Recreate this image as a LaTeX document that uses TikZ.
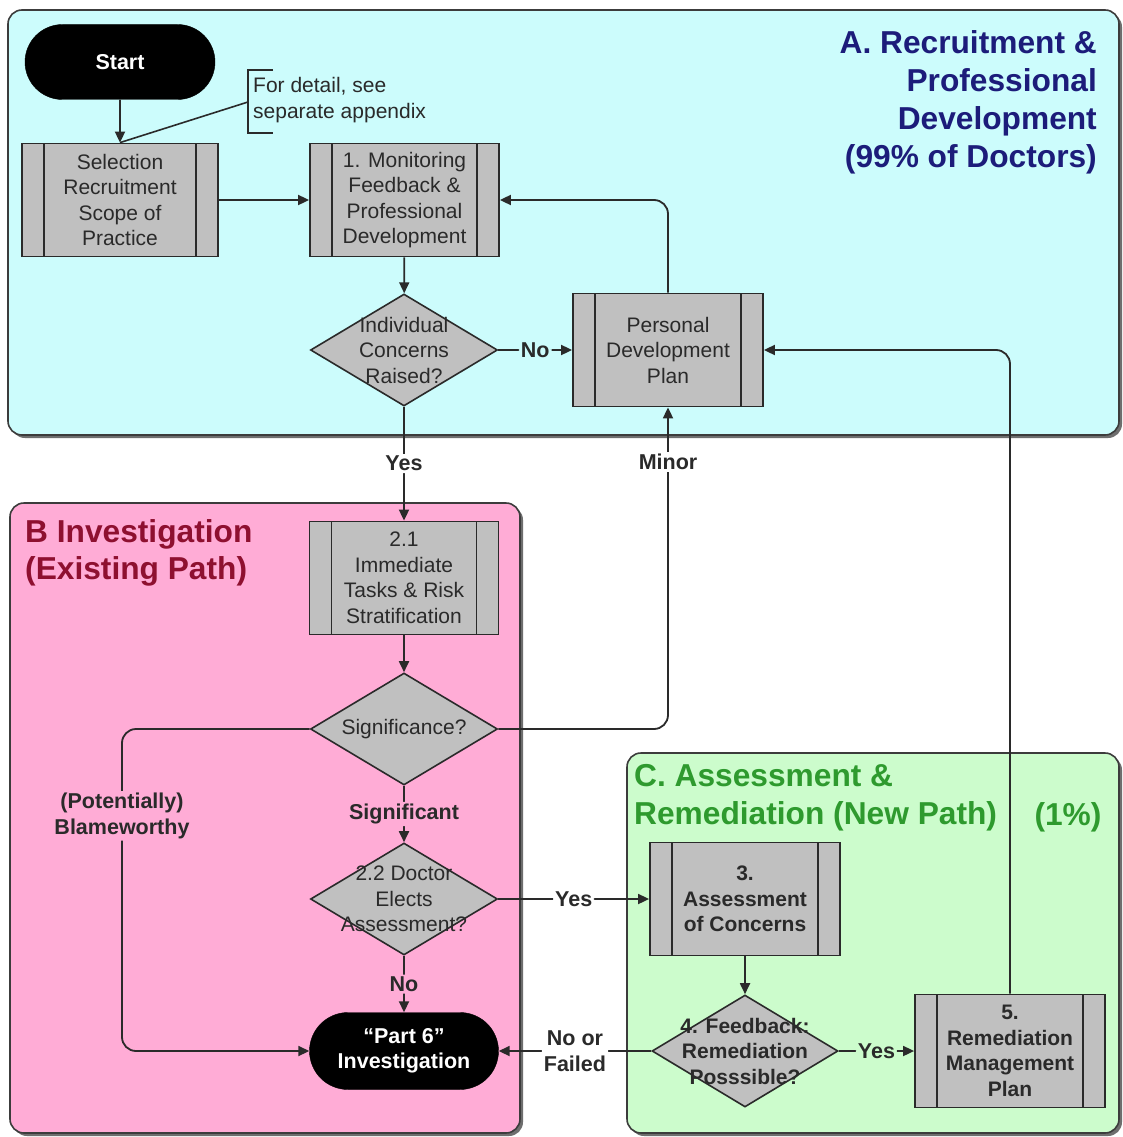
\documentclass[tikz,border=0pt]{standalone}
\usepackage{fontspec}
\setmainfont{Liberation Sans}
\usetikzlibrary{shapes.geometric,shapes.misc,arrows.meta,calc}

\definecolor{panelA}{HTML}{CCFCFC}
\definecolor{panelB}{HTML}{FFACD6}
\definecolor{panelC}{HTML}{CCFCCC}
\definecolor{boxgrey}{HTML}{C0C0C0}
\definecolor{ink}{HTML}{2A2A2A}
\definecolor{edge}{HTML}{3C3C3C}
\definecolor{shade}{HTML}{6E6E6E}
\definecolor{titleA}{HTML}{1C1C7A}
\definecolor{titleB}{HTML}{8E1030}
\definecolor{titleC}{HTML}{2E9A2E}

\newcommand\bxfont{\fontsize{21}{25.5}\selectfont}
\newcommand\bbxfont{\fontsize{21}{25.5}\selectfont\bfseries}
\newcommand\lblfont{\fontsize{21.5}{25.5}\selectfont\bfseries}
\newcommand\ttlAfont{\fontsize{31.7}{38}\selectfont\bfseries}
\newcommand\ttlBfont{\fontsize{31.7}{37.5}\selectfont\bfseries}
\newcommand\ttlCfont{\fontsize{31.7}{38}\selectfont\bfseries}

\tikzset{
  panel/.style={draw=edge, line width=1.6pt, rounded corners=14pt},
  panelshadow/.style={fill=shade, rounded corners=14pt},
  proc/.style={draw=ink, line width=1.8pt, fill=boxgrey, minimum width=189pt,
    minimum height=113pt, inner sep=0pt, align=center, text=ink, font=\bxfont,
    path picture={
      \draw[line width=1.8pt, ink]
        ([xshift=22pt]path picture bounding box.north west) --
        ([xshift=22pt]path picture bounding box.south west);
      \draw[line width=1.8pt, ink]
        ([xshift=-22pt]path picture bounding box.north east) --
        ([xshift=-22pt]path picture bounding box.south east);
    }},
  dia/.style={diamond, draw=ink, line width=1.6pt, fill=boxgrey,
    minimum width=187pt, minimum height=112pt, inner sep=0pt},
  diatext/.style={align=center, text=ink, font=\bxfont, inner sep=0pt},
  term/.style={rounded rectangle, fill=black, draw=black, text=white,
    font=\lblfont, align=center, minimum width=189pt, minimum height=76pt,
    inner sep=0pt},
  conn/.style={draw=ink, line width=1.8pt, rounded corners=14pt,
    -{Triangle[length=11pt,width=10pt]}},
  lbl/.style={font=\lblfont, text=ink, inner sep=2pt, align=center},
  annot/.style={draw=ink, line width=1.6pt}
}

\begin{document}
\begin{tikzpicture}[x=1pt,y=-1pt]
\useasboundingbox (0,0) rectangle (1123,1137);
\fill[white] (0,0) rectangle (1123,1137);

% ---------- swim-lane panels ----------
\fill[panelshadow] (11,13) rectangle (1122,438);
\filldraw[panel, fill=panelA] (8,10) rectangle (1119,435);

\fill[panelshadow] (13,506) rectangle (523,1136);
\filldraw[panel, fill=panelB] (10,503) rectangle (520,1133);

\fill[panelshadow] (630,756) rectangle (1122,1136);
\filldraw[panel, fill=panelC] (627,753) rectangle (1119,1133);

% ---------- panel titles ----------
\node[font=\ttlAfont, text=titleA, align=right, anchor=east, inner sep=0pt]
  (ttlA) at (1097,102) {A. Recruitment \&\\Professional\\Development\\(99\% of Doctors)};
\node[font=\ttlBfont, text=titleB, align=left, anchor=west, inner sep=0pt]
  (ttlB) at (25,553) {B Investigation\\(Existing Path)};
\node[font=\ttlCfont, text=titleC, align=left, anchor=west, inner sep=0pt]
  (ttlC) at (634,798) {C. Assessment \&\\Remediation (New Path)};
\node[font=\ttlCfont, text=titleC, inner sep=0pt] (pct) at (1068,817) {(1\%)};

% ---------- section A ----------
\node[term, minimum width=190pt, minimum height=75pt] (start) at (120,62) {Start};
\node[proc, minimum width=196pt] (sel) at (120,200) {Selection\\Recruitment\\Scope of\\Practice};
\node[proc] (mon) at (404.5,200) {1. Monitoring\\Feedback \&\\Professional\\Development};
\node[dia] (d1) at (404,350) {};
\node[diatext] at (d1) {Individual\\Concerns\\Raised?};
\node[proc, minimum width=190pt] (pdp) at (668,350) {Personal\\Development\\Plan};

% note with bracket
\node[anchor=west, font=\bxfont, text=ink, align=left, inner sep=0pt]
  (note) at (253,100) {For detail, see\\separate appendix};
\coordinate (brk) at (248,102);
\draw[annot] (273,70) -- (248,70) -- (248,133) -- (273,133);
\draw[annot] (brk) -- (sel.north);

% ---------- section B ----------
\node[proc] (t21) at (404,578) {2.1\\Immediate\\Tasks \& Risk\\Stratification};
\node[dia] (sig) at (404,729) {};
\node[diatext] at (sig) {Significance?};
\node[dia] (d22) at (404,899) {};
\node[diatext] at (d22) {2.2 Doctor\\Elects\\Assessment?};
\node[term, minimum height=77pt] (p6) at (404,1051) {“Part 6”\\Investigation};

% ---------- section C ----------
\node[proc, minimum width=190pt, font=\bbxfont] (b3) at (745,899) {3.\\Assessment\\of Concerns};
\node[dia, minimum width=186pt] (d4) at (745,1051) {};
\node[diatext, font=\bbxfont] at (d4) {4. Feedback:\\Remediation\\Posssible?};
\node[proc, minimum width=190pt, font=\bbxfont] (b5) at (1010,1051) {5.\\Remediation\\Management\\Plan};

% ---------- connectors ----------
\draw[conn] (start) -- (sel);
\draw[conn] (sel) -- (mon);
\draw[conn] (mon) -- (d1);
\draw[conn] (d1.east) -- node[lbl, fill=panelA] {No} (pdp.west);
\draw[conn] (pdp.north) |- (mon.east);
\draw[conn] (d1.south) -- node[lbl, fill=white] {Yes} (t21.north);
\draw[conn] (t21) -- (sig);
\draw[conn] (sig.east) -| node[lbl, fill=white, pos=0.915] {Minor} (pdp.south);
\draw[conn] (sig.south) -- node[lbl, fill=panelB] {Significant} (d22.north);
\coordinate (bw) at (122,729);
\draw[conn] (sig.west) -- (bw)
  -- node[lbl, fill=panelB, pos=0.27] {(Potentially)\\Blameworthy} (bw |- p6.west)
  -- (p6.west);
\draw[conn] (d22.south) -- node[lbl, fill=panelB] {No} (p6.north);
\draw[conn] (d22.east) -- node[lbl, fill=white] {Yes} (b3.west);
\draw[conn] (b3) -- (d4);
\draw[conn] (d4.east) -- node[lbl, fill=panelC] {Yes} (b5.west);
\draw[conn] (d4.west) -- node[lbl, fill=white] {No or\\Failed} (p6.east);
\draw[conn] (b5.north) |- (pdp.east);

\end{tikzpicture}
\end{document}
